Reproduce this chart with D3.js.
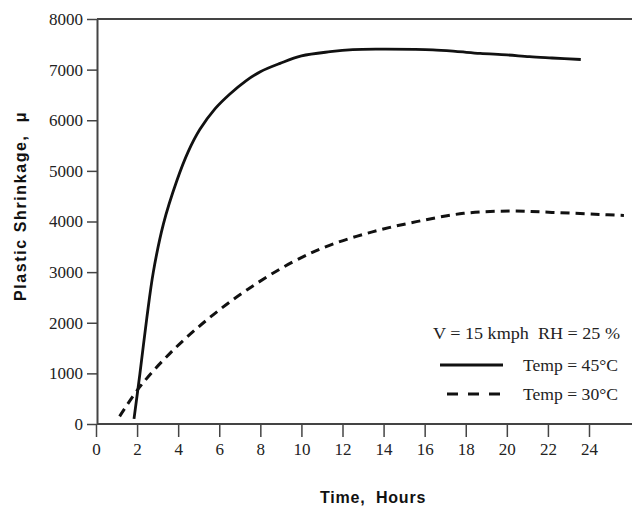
<!DOCTYPE html>
<html><head><meta charset="utf-8">
<script src="https://cdn.jsdelivr.net/npm/d3@7"></script>
<style>body{margin:0;background:#fff;} svg{display:block;}</style>
</head><body>
<svg id="c" width="632" height="512"></svg>
<script>
const xTicks = [0,2,4,6,8,10,12,14,16,18,20,22,24];
const yTicks = [0,1000,2000,3000,4000,5000,6000,7000,8000];
const temp45Time = [1.85,2.14,2.47,2.79,3.28,3.93,4.49,5.06,5.8,6.52,7.3,8.0,8.96,10,11.4,12.5,13.8,15.5,16.4,17.5,18.7,20,21.1,22.2,23.6];
const temp45Shrink = [100,1000,2080,3000,3950,4800,5380,5820,6230,6520,6780,6960,7124,7270,7354,7395,7405,7400,7390,7360,7320,7290,7255,7230,7200];
const temp30Time = [1.15,2.14,3.6,5.39,7.34,9.6,11.4,13.5,15.6,17.9,20.2,22.2,24.5,25.7];
const temp30Shrink = [150,737,1396,2054,2647,3206,3535,3800,3997,4161,4207,4180,4140,4120];
const legendTitle = "V = 15 kmph  RH = 25 %";
const legendLabels = ["Temp = 45°C","Temp = 30°C"];

const svg = d3.select("#c");
const x = d3.scaleLinear().domain([0,24]).range([96,589]);
const y = d3.scaleLinear().domain([0,8000]).range([424,19]);
const axisColor = "#444";
const serif = "'Liberation Serif','Times New Roman',serif";
const sans = "'Liberation Sans',Arial,sans-serif";

// frame lines extending to the right edge
svg.append("line").attr("x1",97).attr("x2",632).attr("y1",y(8000)).attr("y2",y(8000))
  .attr("stroke",axisColor).attr("stroke-width",2);
svg.append("line").attr("x1",97).attr("x2",632).attr("y1",y(0)).attr("y2",y(0))
  .attr("stroke",axisColor).attr("stroke-width",2);

const xa = svg.append("g").attr("transform",`translate(0,${y(0)})`)
  .call(d3.axisBottom(x).tickValues(xTicks).tickSize(13).tickSizeOuter(0).tickPadding(6).tickFormat(d3.format("d")));
xa.select(".domain").remove();
xa.selectAll("line").attr("stroke",axisColor).attr("stroke-width",1.5);
xa.selectAll("text").attr("font-family",serif).attr("font-size",17).attr("fill","#222");

const ya = svg.append("g").attr("transform",`translate(97,0)`)
  .call(d3.axisLeft(y).tickValues(yTicks).tickSize(10).tickSizeOuter(0).tickPadding(4).tickFormat(d3.format("d")));
ya.select(".domain").attr("stroke",axisColor).attr("stroke-width",2);
ya.selectAll("line").attr("stroke",axisColor).attr("stroke-width",1.5);
ya.selectAll("text").attr("font-family",serif).attr("font-size",17).attr("fill","#222");

const line = d3.line().x(d=>x(d[0])).y(d=>y(d[1])).curve(d3.curveCatmullRom.alpha(0.5));
const s45 = temp45Time.map((t,i)=>[t,temp45Shrink[i]]);
const s30 = temp30Time.map((t,i)=>[t,temp30Shrink[i]]);
svg.append("path").attr("d",line(s45)).attr("fill","none").attr("stroke","#111").attr("stroke-width",2.8);
svg.append("path").attr("d",line(s30)).attr("fill","none").attr("stroke","#111").attr("stroke-width",3)
  .attr("stroke-dasharray","9,6");

// axis titles
svg.append("text").attr("x",373).attr("y",503).attr("text-anchor","middle")
  .attr("font-family",sans).attr("font-weight","bold").attr("font-size",16).attr("fill","#111")
  .attr("letter-spacing",0.8).attr("xml:space","preserve").text("Time,  Hours");
svg.append("text").attr("transform","translate(26,206) rotate(-90)").attr("text-anchor","middle")
  .attr("font-family",sans).attr("font-weight","bold").attr("font-size",16).attr("fill","#111")
  .attr("letter-spacing",1.6).attr("xml:space","preserve").text("Plastic Shrinkage,  μ");

// legend
svg.append("text").attr("x",433).attr("y",339).attr("font-family",serif).attr("font-size",16)
  .attr("fill","#222").attr("xml:space","preserve").attr("textLength",187).attr("lengthAdjust","spacingAndGlyphs")
  .text(legendTitle);
svg.append("line").attr("x1",440).attr("x2",503).attr("y1",365).attr("y2",365)
  .attr("stroke","#111").attr("stroke-width",3);
svg.append("line").attr("x1",447).attr("x2",505).attr("y1",394).attr("y2",394)
  .attr("stroke","#111").attr("stroke-width",3).attr("stroke-dasharray","11,10");
legendLabels.forEach((l,i)=>{
  svg.append("text").attr("x",523).attr("y",371+i*29).attr("font-family",serif).attr("font-size",16)
    .attr("fill","#222").attr("textLength",95).attr("lengthAdjust","spacingAndGlyphs").text(l);
});
</script>
</body></html>
